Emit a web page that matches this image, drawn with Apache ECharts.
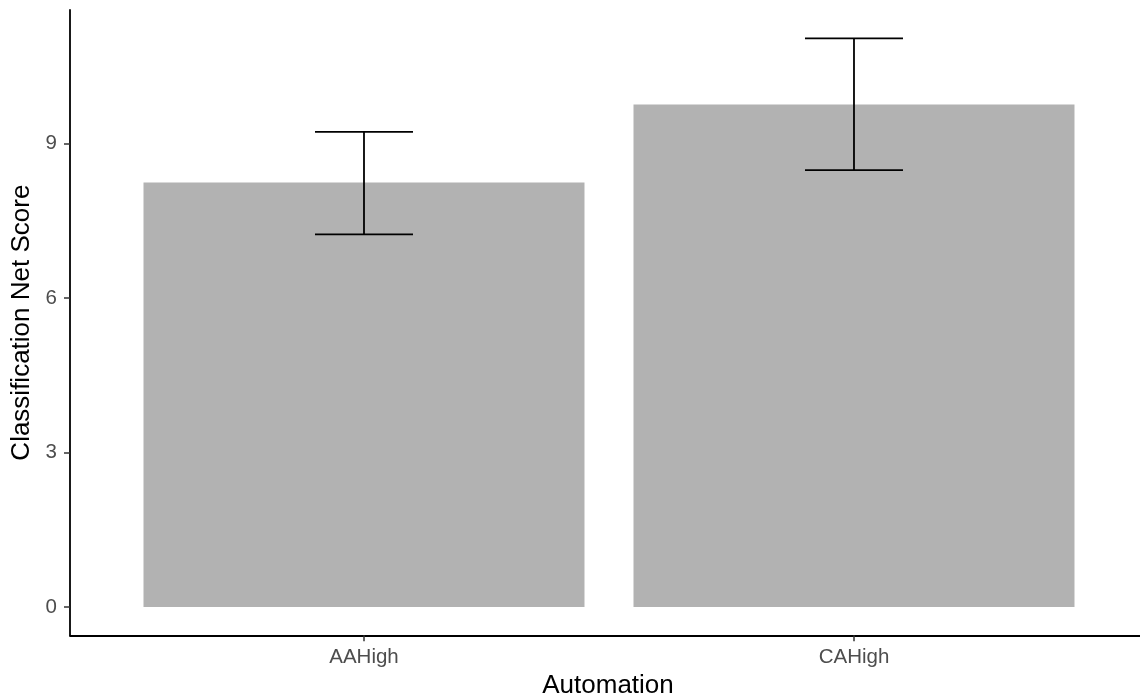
<!DOCTYPE html>
<html>
<head>
<meta charset="utf-8">
<script src="https://cdn.jsdelivr.net/npm/echarts@6/dist/echarts.min.js"></script>
<style>
  html, body { margin: 0; padding: 0; background: #fff; }
  #chart { width: 1140px; height: 696px; }
</style>
</head>
<body>
<div id="chart"></div>
<script>
// Mean classification net score per automation condition, with error bar bounds
const categories = ['AAHigh', 'CAHigh'];
const means = [8.25, 9.765];
const lower = [7.24, 8.49];
const upper = [9.23, 11.05];
const yTicks = [0, 3, 6, 9];

const positions = categories.map((_, i) => i + 1);

const chart = echarts.init(document.getElementById('chart'), null, { renderer: 'canvas' });

const labelFont = { fontFamily: 'Liberation Sans, Arial, sans-serif', fontSize: 20.5, color: '#4d4d4d' };
const titleFont = { fontFamily: 'Liberation Sans, Arial, sans-serif', fontSize: 26, color: '#000' };

chart.setOption({
  animation: false,
  backgroundColor: '#fff',
  grid: { left: 70, top: 10, right: 0, height: 625.3, containLabel: false, outerBoundsMode: 'none' },
  xAxis: {
    type: 'value',
    min: 0.4,
    max: 2.5837,
    name: 'Automation',
    nameLocation: 'middle',
    nameGap: 37,
    nameTextStyle: Object.assign({ padding: [0, 0, 0, 6] }, titleFont),
    splitLine: { show: false },
    axisLine: { show: true, onZero: false, lineStyle: { color: '#000', width: 1.8 } },
    axisTick: { show: true, customValues: positions, length: 6, lineStyle: { color: '#333', width: 1.5 } },
    axisLabel: Object.assign({
      customValues: positions,
      margin: 12,
      formatter: v => categories[Math.round(v) - 1] || ''
    }, labelFont)
  },
  yAxis: {
    type: 'value',
    min: -0.55,
    max: 11.6,
    name: 'Classification Net Score',
    nameLocation: 'middle',
    nameRotate: 90,
    nameGap: 30,
    nameTextStyle: titleFont,
    splitLine: { show: false },
    axisLine: { show: true, onZero: false, lineStyle: { color: '#000', width: 1.8 } },
    axisTick: { show: true, customValues: yTicks, length: 6, lineStyle: { color: '#333', width: 1.5 } },
    axisLabel: Object.assign({ customValues: yTicks, margin: 13 }, labelFont)
  },
  series: [
    {
      type: 'bar',
      data: positions.map((p, i) => [p, means[i]]),
      barWidth: 441,
      itemStyle: { color: '#b2b2b2' },
      silent: true
    },
    {
      type: 'custom',
      data: positions.map((p, i) => [p, lower[i], upper[i]]),
      renderItem: function (params, api) {
        const x = api.value(0);
        const lo = api.coord([x, api.value(1)]);
        const hi = api.coord([x, api.value(2)]);
        const half = api.size([0.1, 0])[0];
        const style = { stroke: '#000', lineWidth: 1.8 };
        return {
          type: 'group',
          children: [
            { type: 'line', shape: { x1: hi[0], y1: hi[1], x2: lo[0], y2: lo[1] }, style: style },
            { type: 'line', shape: { x1: hi[0] - half, y1: hi[1], x2: hi[0] + half, y2: hi[1] }, style: style },
            { type: 'line', shape: { x1: lo[0] - half, y1: lo[1], x2: lo[0] + half, y2: lo[1] }, style: style }
          ]
        };
      },
      z: 5,
      silent: true
    }
  ]
});
</script>
</body>
</html>
